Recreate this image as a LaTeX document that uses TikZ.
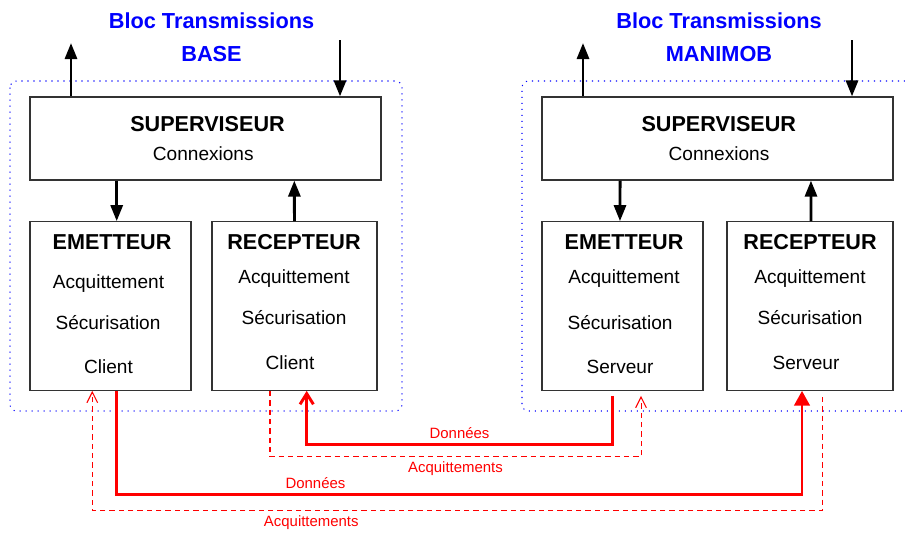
\documentclass[tikz,border=0pt]{standalone}
\usepackage{fontspec}
\setmainfont{Liberation Sans}
\usepackage{xcolor}
\usepackage{tikz}
\usetikzlibrary{arrows.meta}

\tikzset{
    box/.style={draw=black!80, line width=0.9pt, rectangle, fill=white, inner sep=0pt},
    hd/.style={font=\fontsize{16.2}{19}\selectfont\bfseries, anchor=base},
    item/.style={font=\fontsize{14.3}{17}\selectfont, anchor=base},
    ttl/.style={font=\fontsize{16.3}{19}\selectfont\bfseries, text=blue, anchor=base},
    lbl/.style={font=\fontsize{11.2}{13}\selectfont, text=red},
    arr/.style={line width=2.2pt, -{Triangle[length=12pt,width=9pt]}},
    data/.style={red, line width=2.2pt},
    ack/.style={red, line width=0.8pt, dash pattern=on 4pt off 3pt},
    frame/.style={blue, line width=0.8pt, dash pattern=on 0.8pt off 3.7pt, rounded corners=5pt}
}

\begin{document}
\begin{tikzpicture}[x=0.75pt, y=-0.75pt]
        \useasboundingbox (0,0) rectangle (905,532);

        % Frames
        \draw[frame] (10,81) rectangle (402,411);
        \draw[frame] (905,81) -- (522,81) -- (522,411) -- (905,411);

        % Titles
        \node (titlebase) [ttl] at (211.5,28.5) {Bloc Transmissions};
        \node (namebase) [ttl] at (211.5,61.5) {BASE};
        \node (titlemanimob) [ttl] at (719,28.5) {Bloc Transmissions};
        \node (namemanimob) [ttl] at (719,61.5) {MANIMOB};

        % Superviseurs
        \node (supbase) [box, minimum width=263.25pt, minimum height=62.25pt] at (205.5,138.5) {};
        \node (supbasehd) [hd] at (207.5,131.7) {SUPERVISEUR};
        \node (supbasecnx) [item] at (203.3,160) {Connexions};

        \node (supmanimob) [box, minimum width=263.25pt, minimum height=62.25pt] at (717.5,138.5) {};
        \node (supmanimobhd) [hd] at (718.8,131.7) {SUPERVISEUR};
        \node (supmanimobcnx) [item] at (719,160) {Connexions};

        % Emetteur BASE
        \node (emetbase) [box, minimum width=120.75pt, minimum height=126.4pt] at (110.5,306) {};
        \node (emetbasehd) [hd] at (112,249.4) {EMETTEUR};
        \node (emetbaseacq) [item] at (108.5,288.5) {Acquittement};
        \node (emetbasesec) [item] at (108,329.5) {Sécurisation};
        \node (emetbasecli) [item] at (108.5,373.8) {Client};

        % Recepteur BASE
        \node (recepbase) [box, minimum width=123.75pt, minimum height=126.4pt] at (294.5,306) {};
        \node (recepbasehd) [hd] at (294,249.4) {RECEPTEUR};
        \node (recepbaseacq) [item] at (294,283.5) {Acquittement};
        \node (recepbasesec) [item] at (294,324.8) {Sécurisation};
        \node (recepbasecli) [item] at (290,369.8) {Client};

        % Emetteur MANIMOB
        \node (emetmanimob) [box, minimum width=120.75pt, minimum height=126.4pt] at (622.5,306) {};
        \node (emetmanimobhd) [hd] at (624,249.4) {EMETTEUR};
        \node (emetmanimobacq) [item] at (624,283.8) {Acquittement};
        \node (emetmanimobsec) [item] at (620,329.5) {Sécurisation};
        \node (emetmanimobsrv) [item] at (620,373.8) {Serveur};

        % Recepteur MANIMOB
        \node (recepmanimob) [box, minimum width=124.5pt, minimum height=126.4pt] at (810,306) {};
        \node (recepmanimobhd) [hd] at (810,249.4) {RECEPTEUR};
        \node (recepmanimobacq) [item] at (810,283.8) {Acquittement};
        \node (recepmanimobsec) [item] at (810,324.8) {Sécurisation};
        \node (recepmanimobsrv) [item] at (806,369.8) {Serveur};

        % Outside arrows
        \coordinate (outbase) at (71,43);
        \coordinate (inbase) at (340,40);
        \coordinate (outmanimob) at (583,43);
        \coordinate (inmanimob) at (852,40);
        \draw[arr] (outbase |- supbase.north) -- (outbase);
        \draw[arr] (inbase) -- (inbase |- supbase.north);
        \draw[arr] (outmanimob |- supmanimob.north) -- (outmanimob);
        \draw[arr] (inmanimob) -- (inmanimob |- supmanimob.north);

        % Inside arrows
        \draw[arr] ([xshift=-66.6pt]supbase.south) -- ([xshift=4.65pt]emetbase.north);
        \draw[arr] (recepbase.north) -- ([xshift=66.6pt]supbase.south);
        \draw[arr] ([xshift=-73.1pt]supmanimob.south) -- ([xshift=-1.9pt]emetmanimob.north);
        \draw[arr] ([xshift=0.75pt]recepmanimob.north) -- ([xshift=70.1pt]supmanimob.south);

        % Links between the two blocs
        \draw[data, -{Straight Barb[length=8pt,width=10pt]}] ([xshift=-7.65pt,yshift=-3.75pt]emetmanimob.south) -- ++(0,49)
            -| node[lbl, above, pos=0.25] (donnees1) {Données} ([xshift=9.15pt]recepbase.south);
        \draw[ack, -{Straight Barb[length=8pt,width=8pt]}] ([xshift=-18.4pt]recepbase.south) -- ++(0,66)
            -| node[lbl, below, pos=0.25] (acq1) {Acquittements} ([xshift=13.9pt,yshift=-3.75pt]emetmanimob.south);
        \draw[data, -{Triangle[length=11pt,width=11.5pt]}] ([xshift=4.65pt]emetbase.south) -- ++(0,103.7)
            -| node[lbl, above, pos=0.145] (donnees2) {Données} ([xshift=-6pt]recepmanimob.south);
        \draw[ack, -{Straight Barb[length=8pt,width=8pt]}] ([xshift=9.2pt,yshift=-4.5pt]recepmanimob.south) -- ++(0,113.7)
            -| node[lbl, below, pos=0.35] (acq2) {Acquittements} ([xshift=-13.65pt]emetbase.south);
    \end{tikzpicture}
\end{document}
